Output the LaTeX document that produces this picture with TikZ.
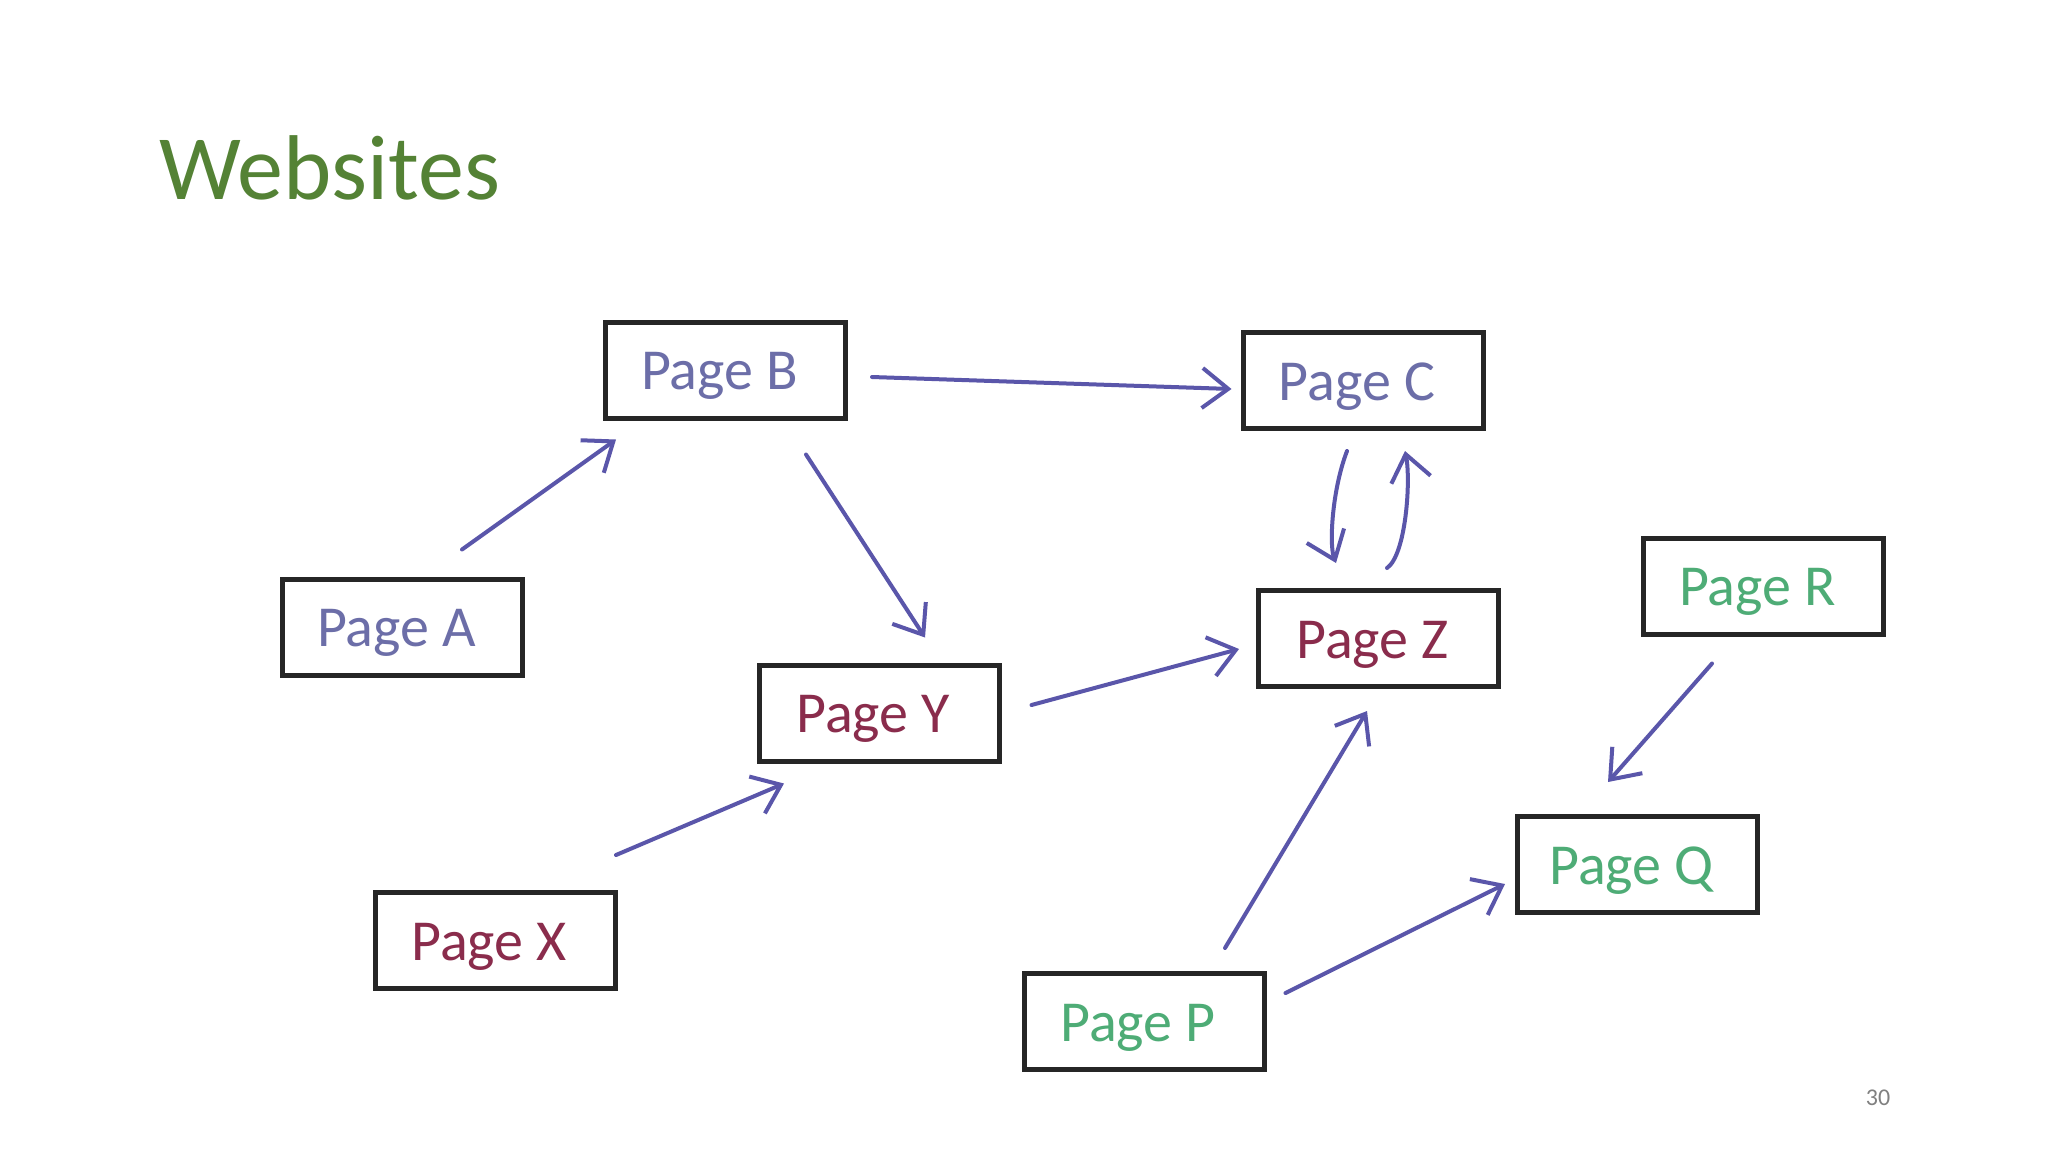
\documentclass[tikz,border=0pt]{standalone}
\usepackage{fontspec}
\setmainfont{Carlito}
\usetikzlibrary{arrows.meta,calc}
\definecolor{titlegreen}{RGB}{84,130,53}
\definecolor{arrowcol}{RGB}{90,86,170}
\definecolor{txtblue}{RGB}{108,110,168}
\definecolor{txtred}{RGB}{138,44,76}
\definecolor{txtgreen}{RGB}{78,172,118}
\definecolor{numgray}{RGB}{128,128,128}
\tikzset{
  pagebox/.style={draw=black!85, line width=2.5pt, rectangle, minimum width=120pt, minimum height=48pt, inner sep=0pt, font=\fontsize{29}{34}\selectfont},
  lbl/.style={inner sep=0pt, font=\fontsize{29}{34}\selectfont},
  arr/.style={draw=arrowcol, line width=2pt, line cap=round, -{Straight Barb[length=13pt,width=20pt,line width=2pt]}}
}
\begin{document}
\begin{tikzpicture}[x=0.5pt,y=-0.5pt]
\useasboundingbox[fill=white] (0,0) rectangle (2048,1152);
\node[anchor=base west, text=titlegreen, font=\fontsize{46}{54}\selectfont, inner sep=0pt] (title) at (159,199) {Websites};
\node[text=numgray, font=\fontsize{12}{14}\selectfont, inner sep=0pt] (num) at (1878,1098) {30};

\node[pagebox] (A) at (402.5,627) {};
\node[pagebox] (B) at (725.5,370) {};
\node[pagebox] (C) at (1363,380.5) {};
\node[pagebox] (Y) at (879,713) {};
\node[pagebox] (Z) at (1378.5,638.5) {};
\node[pagebox] (X) at (495,940.5) {};
\node[pagebox] (R) at (1763.5,586) {};
\node[pagebox] (Q) at (1637.5,864.5) {};
\node[pagebox] (P) at (1144,1021.5) {};

\node[lbl, text=txtblue] (tA) at ([shift={(-6,6)}]A.center) {Page A};
\node[lbl, text=txtblue] (tB) at ([shift={(-6,6)}]B.center) {Page B};
\node[lbl, text=txtblue] (tC) at ([shift={(-6,6)}]C.center) {Page C};
\node[lbl, text=txtred] (tY) at ([shift={(-6,6)}]Y.center) {Page Y};
\node[lbl, text=txtred] (tZ) at ([shift={(-6,6)}]Z.center) {Page Z};
\node[lbl, text=txtred] (tX) at ([shift={(-6,6)}]X.center) {Page X};
\node[lbl, text=txtgreen] (tR) at ([shift={(-6,6)}]R.center) {Page R};
\node[lbl, text=txtgreen] (tQ) at ([shift={(-6,6)}]Q.center) {Page Q};
\node[lbl, text=txtgreen] (tP) at ([shift={(-6,6)}]P.center) {Page P};

\draw[arr] ([shift={(59.5,-27)}]A.north) -- ([shift={(-109.5,19)}]B.south);
\draw[arr] ([shift={(24,7)}]B.east) -- ([shift={(-9,8.5)}]C.west);
\draw[arr] ([shift={(80.5,34)}]B.south) -- ([shift={(46,-25)}]Y.north);
\draw[arr] ([shift={(-16,20)}]C.south) .. controls (1332,490) and (1329,545) .. ([shift={(-42.5,-25)}]Z.north);
\draw[arr] ([shift={(8.5,-20)}]Z.north) .. controls (1406,555) and (1411,480) .. ([shift={(42,20)}]C.south);
\draw[arr] ([shift={(30,-8)}]Y.east) -- ([shift={(-17,10.5)}]Z.west);
\draw[arr] ([shift={(121,-35)}]X.north) -- ([shift={(-95,20)}]Y.south);
\draw[arr] ([shift={(81,-23)}]P.north) -- ([shift={(-11.5,22)}]Z.south);
\draw[arr] ([shift={(19,-28.5)}]P.east) -- ([shift={(-10,19.5)}]Q.west);
\draw[arr] ([shift={(-51.5,27)}]R.south) -- ([shift={(-29.5,-32)}]Q.north);
\end{tikzpicture}
\end{document}
